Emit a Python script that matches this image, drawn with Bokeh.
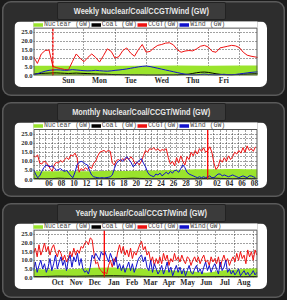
from bokeh.plotting import figure
from bokeh.models import (FixedTicker, Range1d, Legend, LegendItem,
                          PrintfTickFormatter, Div, BoxAnnotation)
from bokeh.layouts import column
from bokeh.embed import file_html
from bokeh.resources import INLINE

# ---------------- Weekly: x = days from Sun 2 Sep 2012 00:00, samples every 3 h from Sat 09:00
week_start = -0.625
week_step = 0.125
week_ccgt = [11, 7, 12.5, 14.5, 14.8, 5.2, 4.5, 4, 3.5, 3.2,
             8, 12.5, 10, 8, 10.5, 12.5, 10.5, 7.8, 11.5, 15.5,
             14, 10, 11, 14.5, 16, 13, 11.2, 15, 18, 13.5,
             14, 16, 17.5, 18, 18.8, 19, 17.8, 15, 13.5, 14.2,
             14.5, 14.3, 15.5, 17, 17.5, 16.5, 14, 13.5, 16, 16.5,
             17, 17.5, 17.2, 16.2, 13.5, 11.8, 11.2, 10.8, 10.4]
week_wind = [0.5, 1, 1.8, 2.5, 3, 3.2, 3.3, 3.2, 3, 3.1,
             3.4, 3.2, 3, 2.8, 2.7, 2.8, 3, 2.8, 2.6, 2.5,
             2.7, 3, 3.2, 3.5, 3.8, 4.2, 4.6, 5, 5.3, 5.5,
             5.2, 4.7, 4.2, 3.7, 3.2, 2.7, 2.2, 1.7, 1.2, 0.8,
             0.5, 0.3, 0.4, 0.6, 0.8, 0.6, 0.4, 0.3, 0.5, 0.7,
             0.5, 0.4, 0.6, 0.9, 1.2, 1.5, 1.8, 2, 2.1]
week_coal = [0.8, 1, 1.2, 1.3, 1.4, 1.5, 1.5, 1.4, 1.3,
             1.2, 1.3, 1.4, 1.3, 1.2, 1.1, 1.0, 0.9, 0.8,
             0.8, 0.7, 0.6, 0.5, 0.5, 0.4, 0.4, 0.3, 0.3,
             0.3, 0.3, 0.2, 0.2, 0.2, 0.2, 0.2, 0.3, 0.3,
             0.3, 0.4, 0.5, 0.6, 0.8, 1.2, 1.6, 1.9, 2.0,
             1.8, 1.4, 1.0, 0.7, 0.5, 0.4, 0.4, 0.5, 0.6,
             0.7, 0.8, 0.9, 1.0, 1.0]
week_nuc_x = [-0.625, 0, 1, 2, 3, 4, 5, 6, 6.6]
week_nuc = [5.6, 5.6, 5.7, 5.6, 5.7, 5.8, 5.7, 5.8, 5.8]
week_ticks = [0.5, 1.5, 2.5, 3.5, 4.5, 5.5]
week_labels = ["Sun", "Mon", "Tue", "Wed", "Thu", "Fri"]
week_grid = [0, 1, 2, 3, 4, 5, 6]
week_marker = 0
week_range = (-0.625, 6.583)

# ---------------- Monthly: x = days from 1 Aug 2012 00:00, samples every 8 h from 4 Aug
month_start = 3
month_step = 1 / 3
month_ccgt = [13, 12.5, 13.5, 9, 8.5, 10, 9.5, 8, 6, 4.5, 8, 9.5,
              9, 10.5, 9.5, 11, 12, 11, 13.5, 13, 14.5, 12, 4, 6,
              5, 6.5, 5.5, 7, 6, 9, 10, 13, 15, 15.5, 16, 15,
              16, 15.5, 9, 8, 10.5, 11, 10, 11.5, 10.5, 12, 11, 12.5,
              11, 8.5, 9.5, 8, 10, 13, 16, 15, 17, 16.5, 17.5, 16,
              17, 15.5, 16.5, 16, 17, 12, 8.5, 10, 7.5, 12, 9, 13,
              10, 8, 12.5, 11, 15, 13, 16, 14, 17, 15.5, 17.5, 15,
              16, 18, 15, 9, 5.5, 7, 11, 9.5, 12, 10, 13, 11,
              12.5, 15, 14, 16, 14.5, 17.5, 15, 18.5, 16, 17, 15.5, 18]
month_wind = [5.5, 3, 1, 2, 4.5, 6.5, 8, 7.5, 7, 7.5, 6.5, 5,
              5.5, 6, 5, 4.5, 5, 3.5, 2, 1, 4, 8, 9.5, 10,
              9.5, 8.5, 8, 5, 2.5, 1.5, 1.2, 1, 0.8, 1, 0.8, 1,
              1.2, 1.5, 2.5, 6, 9, 10, 11, 10, 11.5, 12.5, 11, 9.5,
              7, 8, 9.5, 10.5, 11.5, 9, 7, 4, 2.5, 2, 1.5, 3,
              2.5, 3.5, 2, 3, 4, 3, 4.5, 3.5, 5, 5, 4, 6,
              8, 6.5, 4, 3, 2.5, 2, 1.5, 1, 1.5, 1, 1.5, 1,
              1.5, 2, 1, 1, 2, 3, 3, 2, 2.5, 2, 1.5, 2,
              2.5, 2, 1.5, 1, 1.5, 2, 1.5, 1, 2, 2, 1.5, 1]
month_day_x = list(range(3, 40))
month_nuc = [4.6, 4.6, 4.5, 4.5, 4.6, 4.7, 4.7, 4.6, 4.6, 4.5,
             4.6, 4.7, 4.8, 4.8, 4.7, 4.7, 4.8, 4.8, 4.9, 5.0,
             5.0, 5.1, 5.2, 5.3, 5.4, 5.5, 5.6, 5.6, 5.7, 5.7,
             5.7, 5.8, 5.8, 5.8, 5.7, 5.7, 5.7]
month_coal = [0.6, 0.5, 0.4, 0.5, 0.7, 0.6, 0.5, 0.4, 0.3, 0.4,
              0.5, 0.6, 0.5, 0.4, 0.5, 0.6, 0.7, 0.6, 0.5, 0.4,
              0.4, 0.5, 0.6, 0.5, 0.4, 0.3, 0.4, 0.5, 0.6, 0.7,
              0.6, 0.5, 0.4, 0.5, 0.6, 0.5, 0.4]
month_ticks = [5.5, 7.5, 9.5, 11.5, 13.5, 15.5, 17.5, 19.5, 21.5, 23.5,
               25.5, 27.5, 29.5, 32.5, 34.5, 36.5, 38.5]
month_labels = ["06", "08", "10", "12", "14", "16", "18", "20", "22", "24",
                "26", "28", "30", "02", "04", "06", "08"]
month_grid = list(range(4, 39))
month_marker = 31
month_range = (3, 39)

# ---------------- Yearly: x = days from 1 Sep 2011, samples every 3 days from 7 Sep
year_start = 6
year_step = 3
year_ccgt = [14, 17, 12, 19, 13, 16, 20, 15,
             18, 13, 17, 19, 15, 12, 16, 14, 10, 13, 9,
             11, 15, 12, 17, 13, 16, 14, 18, 17, 20,
             21, 19, 23, 22, 14, 8, 9, 5, 4, 2.5,
             3, 2, 7, 10, 6, 11, 9, 15, 19, 14,
             18, 13, 16, 12, 17, 11, 15, 13, 16, 19,
             21, 16, 18, 13, 15, 9, 12, 7, 11, 8,
             12, 8, 14, 10, 13, 7, 11, 9, 14, 10,
             12, 9, 13, 10, 8, 12, 11, 7, 10, 12,
             9, 12, 8, 11, 13, 9, 10, 7, 12, 9,
             11, 8, 12, 6, 10, 13, 9, 11, 7, 10,
             12, 9, 14, 10, 15, 11, 13, 8, 16, 12,
             15, 10, 16, 13]
year_wind = [4, 9, 3, 7, 10, 5, 8, 3,
             6, 11, 4, 8, 13, 5, 9, 12, 7, 10, 4,
             10, 13, 6, 12, 9, 14, 7, 11, 5, 3,
             4, 2, 6, 13, 11, 14, 12, 10, 15, 13,
             15, 12, 9, 14, 11, 7, 12, 5, 8, 4,
             7, 3, 6, 9, 4, 8, 3, 6, 10, 12,
             13, 9, 12, 6, 4, 10, 3, 8, 5, 2,
             4, 7, 2, 5, 9, 3, 6, 1, 4, 7,
             3, 6, 2, 5, 1, 4, 7, 3, 2, 5,
             7, 3, 5, 2, 6, 9, 4, 7, 3, 6,
             8, 5, 2, 9, 4, 6, 10, 3, 5, 2,
             4, 1.5, 3, 5, 1, 2.5, 4, 1.5, 3, 1,
             2, 4, 1.5, 3]
year_month_x = [6, 15, 45, 76, 106, 137, 167, 197, 228, 258, 289, 319, 350, 373]
year_nuc = [4.8, 4.8, 4.6, 5.0, 5.6, 5.8, 5.4, 4.6, 4.2, 3.8, 2.8, 4.2, 5.0, 5.4]
year_coal = [0.6, 0.5, 0.8, 0.7, 0.9, 1.0, 0.8, 0.6, 0.5, 0.4, 0.5, 0.6, 0.5, 0.6]
year_ticks = [45.5, 76, 106.5, 137.5, 167.5, 197.5, 228, 258.5, 289, 319.5, 350.5]
year_labels = ["Oct", "Nov", "Dec", "Jan", "Feb", "Mar", "Apr", "May", "Jun", "Jul", "Aug"]
year_grid = [30, 61, 91, 122, 153, 182, 213, 243, 274, 304, 335, 366]
year_marker = 122
year_range = (6, 373)

y_ticks = [0, 5, 10, 15, 20, 25]
Y_MAX = 27.5            # top of the plotting area
Y_TOP = 27.5 * 57 / 50  # extra strip above it that holds the legend

GREEN = "#9ae42c"
RED = "#ee1111"
BLUE = "#1111cc"


def chart(xr, t, ccgt, wind, coal_x, coal, nuc_x, nuc,
          ticks, labels, vgrid, hgrid, marker, legend_labels, marker_dash):
    p = figure(width=253, height=66, output_backend="svg", toolbar_location=None,
               x_range=Range1d(*xr), y_range=Range1d(0, Y_TOP),
               min_border_left=19, min_border_right=10, min_border_top=0,
               min_border_bottom=9,
               border_fill_color="white", background_fill_color="white",
               outline_line_color=None,
               styles={"border-radius": "7px", "overflow": "hidden"})

    p.varea(x=nuc_x, y1=[0] * len(nuc), y2=nuc, fill_color=GREEN, fill_alpha=1)
    p.line(coal_x, coal, line_color="black", line_width=1)
    p.line(t, ccgt, line_color=RED, line_width=1)
    p.line(t, wind, line_color=BLUE, line_width=1)
    # period-start marker (week / month / year boundary)
    p.segment(x0=[marker], y0=[0], x1=[marker], y1=[Y_MAX], line_color="#ff0000",
              line_width=1.3, line_dash=marker_dash)

    # white strip above the plotting area (legend row) and the plot-area border
    p.add_layout(BoxAnnotation(bottom=Y_MAX, fill_color="white", fill_alpha=1.0,
                               line_alpha=0))
    dx = 0.5 * (xr[1] - xr[0]) / 224
    dy = 0.5 * Y_MAX / 50
    p.add_layout(BoxAnnotation(left=xr[0] + dx, right=xr[1] - dx, bottom=dy, top=Y_MAX,
                               fill_alpha=0, line_color="#555555",
                               line_alpha=1.0, line_width=1))

    far = xr[0] - 50
    sw = [p.line([far, far + 1], [1, 1], line_color=c, line_width=3.5)
          for c in (GREEN, "black", RED, BLUE)]
    leg = Legend(items=[LegendItem(label=lab, renderers=[r]) for lab, r in zip(legend_labels, sw)],
                 orientation="horizontal", location="top_left", padding=0, margin=0, spacing=0,
                 label_standoff=1, glyph_width=10, glyph_height=5, label_height=5,
                 label_text_font="Liberation Mono", label_text_font_size="6.5px",
                 label_text_color="#444444", background_fill_alpha=0, border_line_alpha=0)
    p.add_layout(leg)

    p.xaxis.ticker = FixedTicker(ticks=ticks)
    p.xaxis.major_label_overrides = dict(zip(ticks, labels))
    p.yaxis.ticker = FixedTicker(ticks=y_ticks)
    p.yaxis.formatter = PrintfTickFormatter(format="%.1f")
    p.xgrid.ticker = FixedTicker(ticks=vgrid)
    p.ygrid.ticker = FixedTicker(ticks=hgrid)
    p.grid.grid_line_color = "#222222"
    p.grid.grid_line_dash = "1 2"
    p.grid.grid_line_alpha = 0.85
    for ax in p.axis:
        ax.axis_line_color = None
        ax.major_tick_line_color = None
        ax.minor_tick_line_color = None
        ax.major_tick_in = 0
        ax.major_tick_out = 0
        ax.minor_tick_in = 0
        ax.minor_tick_out = 0
        ax.major_label_standoff = 1
        ax.major_label_text_font = "Liberation Serif"
        ax.major_label_text_font_style = "bold"
        ax.major_label_text_color = "#2a2a2a"
    p.xaxis.major_label_standoff = 0
    p.xaxis.major_label_text_font_size = "7.5px"
    p.yaxis.major_label_text_font_size = "6.5px"
    return p


def panel(title, fig, bottom_gap):
    tab = Div(text='<span style="display:inline-block;transform:scaleX(0.82)">' + title + '</span>',
              width=169, height=18, margin=(1, 0, 0, 55),
              styles={"background-color": "#3b3b3b", "color": "#e8e8e8",
                      "font-family": "'Liberation Sans', sans-serif",
                      "font-weight": "bold", "font-size": "9px", "text-align": "center",
                      "line-height": "18px", "box-shadow": "inset 0 0 0 1px #222222",
                      "border-radius": "2px", "white-space": "nowrap"})
    fig.margin = (1, 0, 0, 12)
    return column(tab, fig, width=283, height=95, spacing=0, margin=(1, 2, bottom_gap, 2),
                  styles={"background-color": "#2d2d2d", "border-radius": "9px",
                          "box-shadow": "inset 0 0 0 1.5px #5a5a5a"})


wt = [week_start + i * week_step for i in range(len(week_ccgt))]
mt = [month_start + i * month_step for i in range(len(month_ccgt))]
yt = [year_start + i * year_step for i in range(len(year_ccgt))]

f1 = chart(week_range, wt, week_ccgt, week_wind, wt, week_coal, week_nuc_x, week_nuc,
           week_ticks, week_labels, week_grid, [5, 10, 15, 20, 25], week_marker,
           ["Nuclear (GW)", "Coal (GW)", "CCGT(GW)", "Wind (GW)"], "3 1")
f2 = chart(month_range, mt, month_ccgt, month_wind, month_day_x, month_coal, month_day_x, month_nuc,
           month_ticks, month_labels, month_grid,
           [2.5, 5, 7.5, 10, 12.5, 15, 17.5, 20, 22.5, 25], month_marker,
           ["Nuclear (GW)", "Coal (GW)", "CCGT(GW)", "Wind (GW)"], "solid")
f3 = chart(year_range, yt, year_ccgt, year_wind, year_month_x, year_coal, year_month_x, year_nuc,
           year_ticks, year_labels, year_grid, [5, 10, 15, 20, 25], year_marker,
           ["Nuclear (GW)", "Coal (GW)", "CCGT(GW)", "Wind(GW)"], "solid")

layout = column(panel("Weekly Nuclear/Coal/CCGT/Wind (GW)", f1, 5),
                panel("Monthly Nuclear/Coal/CCGT/Wind (GW)", f2, 5),
                panel("Yearly Nuclear/Coal/CCGT/Wind (GW)", f3, 2),
                width=287, height=300, spacing=0,
                styles={"background-color": "#1b1b1b"})
open("out.html", "w").write(file_html(layout, INLINE))
